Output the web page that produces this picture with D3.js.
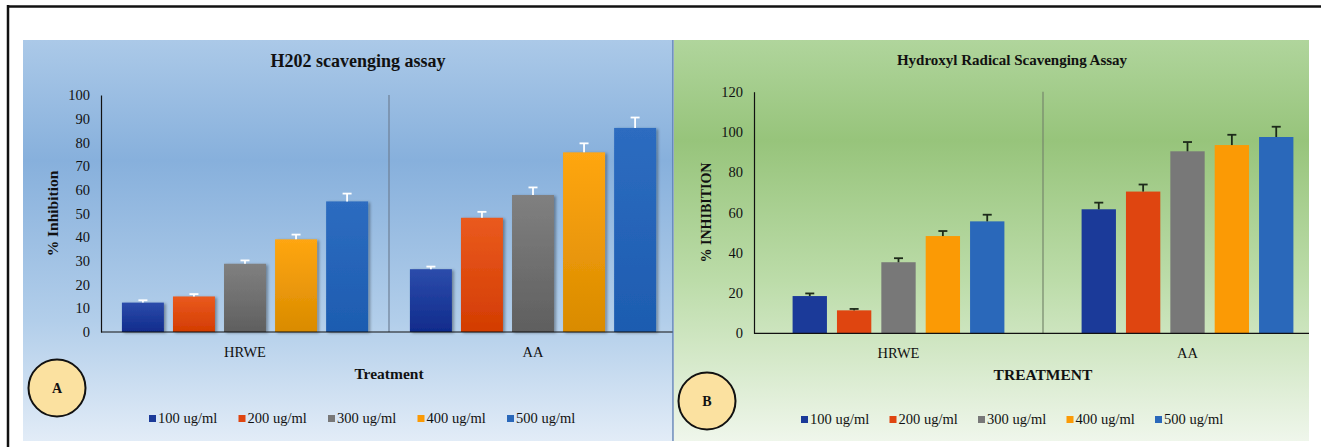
<!DOCTYPE html>
<html>
<head>
  <meta charset="utf-8" />
  <title>H2O2 and hydroxyl radical scavenging</title>
  <script src="https://d3js.org/d3.v7.min.js"></script>
</head>
<style>
body {
  margin: 0;
  background: #fff;
}
text {
  font-family: 'Liberation Serif', 'Times New Roman', serif;
  fill: #111;
}
</style>
<body>
<div id="viz"></div>
<script>
'use strict';

const groups = ['HRWE', 'AA'];
const series = ['100 ug/ml', '200 ug/ml', '300 ug/ml', '400 ug/ml', '500 ug/ml'];

// panel A: H2O2 scavenging, % inhibition per group x concentration
const h2o2Values = [[12.4, 15.0, 28.8, 39.1, 55.1], [26.5, 48.2, 57.8, 75.8, 86.1]];
const h2o2Errors = [[1.0, 1.0, 1.4, 2.0, 3.3], [1.1, 2.5, 3.2, 3.8, 4.4]];
const h2o2Ticks = [0, 10, 20, 30, 40, 50, 60, 70, 80, 90, 100];

// panel B: hydroxyl radical scavenging
const ohValues = [[18.5, 11.4, 35.3, 48.3, 55.6], [61.6, 70.4, 90.4, 93.5, 97.5]];
const ohErrors = [[1.3, 0.7, 2.0, 2.5, 3.3], [3.3, 3.5, 4.6, 5.1, 5.1]];
const ohTicks = [0, 20, 40, 60, 80, 100, 120];

const flatColors = ['#1b3a99', '#df4510', '#787878', '#fb9a05', '#2a68ba'];
const gradTop = ['#2c4cab', '#ea5a1e', '#808080', '#ffa612', '#2d6cc0'];
const gradBot = ['#102b8c', '#d33c02', '#5f5f5f', '#d98b00', '#1d5cb0'];

const W = 1321, H = 447;

const svg = d3.select('#viz')
  .append('svg')
    .attr('width', W)
    .attr('height', H);

const defs = svg.append('defs');

function grad(id, stops) {
  const g = defs.append('linearGradient')
    .attr('id', id)
    .attr('x1', 0).attr('y1', 0).attr('x2', 0).attr('y2', 1);
  stops.forEach(s => g.append('stop').attr('offset', s[0]).attr('stop-color', s[1]));
}

grad('bgA', [[0, '#abc9e8'], [0.3, '#87b0dc'], [0.7, '#b2ceea'], [1, '#e2ecf7']]);
grad('bgB', [[0, '#b0d59c'], [0.25, '#97c47b'], [0.6, '#bcdca9'], [1, '#eff6eb']]);
series.forEach((s, i) => grad('bar' + i, [[0, gradTop[i]], [1, gradBot[i]]]));

defs.append('filter')
    .attr('id', 'shadow')
    .attr('x', -0.2).attr('y', -0.1).attr('width', 1.5).attr('height', 1.3)
  .append('feDropShadow')
    .attr('dx', 2).attr('dy', 1).attr('stdDeviation', 1.6)
    .attr('flood-color', '#000').attr('flood-opacity', 0.35);

// outer frame
svg.append('line').attr('x1', 7).attr('x2', W).attr('y1', 6.5).attr('y2', 6.5)
  .attr('stroke', '#111').attr('stroke-width', 2.5);
svg.append('line').attr('x1', 8).attr('x2', 8).attr('y1', 5).attr('y2', H)
  .attr('stroke', '#111').attr('stroke-width', 2.5);

function panel(cfg) {
  const g = svg.append('g');

  g.append('rect')
    .attr('x', cfg.box[0]).attr('y', cfg.box[1])
    .attr('width', cfg.box[2]).attr('height', cfg.box[3])
    .attr('fill', cfg.bg);

  const y = d3.scaleLinear().domain(cfg.domain).range([cfg.y0, cfg.y1]);
  const x = d3.scaleBand().domain(groups).range([cfg.x0, cfg.x1]);
  const xs = d3.scaleBand().domain(series).range([0, x.bandwidth()])
    .paddingInner(cfg.padIn).paddingOuter(cfg.padOut);

  // title
  g.append('text')
    .attr('x', cfg.titleX).attr('y', cfg.titleY)
    .attr('text-anchor', 'middle')
    .style('font-size', cfg.titleSize + 'px')
    .style('font-weight', 'bold')
    .text(cfg.title);

  // y axis
  const yAxis = g.append('g')
    .attr('transform', 'translate(' + cfg.x0 + ',0)')
    .call(d3.axisLeft(y).tickValues(cfg.ticks).tickSize(0).tickPadding(11));
  yAxis.select('.domain').attr('stroke', '#111').attr('stroke-width', 1.2);
  yAxis.selectAll('text')
    .style('font-size', '14.5px')
    .style('font-family', "'Liberation Serif', serif")
    .attr('fill', '#111');

  g.append('text')
    .attr('transform', 'translate(' + cfg.ylabX + ',' + (cfg.y0 + cfg.y1) / 2 + ') rotate(-90)')
    .attr('text-anchor', 'middle')
    .style('font-size', cfg.ylabSize + 'px')
    .style('font-weight', 'bold')
    .text(cfg.ylabel);

  // divider between the groups
  g.append('line')
    .attr('x1', x('AA')).attr('x2', x('AA'))
    .attr('y1', cfg.y1).attr('y2', cfg.y0)
    .attr('stroke', cfg.divider).attr('stroke-width', 1.2);

  // bars
  groups.forEach((grp, gi) => {
    const bg = g.append('g').attr('transform', 'translate(' + x(grp) + ',0)');
    bg.selectAll('rect')
      .data(series)
      .join('rect')
        .attr('x', d => xs(d))
        .attr('y', (d, i) => y(cfg.values[gi][i]))
        .attr('width', xs.bandwidth())
        .attr('height', (d, i) => y(0) - y(cfg.values[gi][i]))
        .attr('fill', (d, i) => cfg.gradient ? 'url(#bar' + i + ')' : flatColors[i])
        .attr('filter', cfg.gradient ? 'url(#shadow)' : null);

    const eb = bg.selectAll('g.err')
      .data(series)
      .join('g')
        .attr('class', 'err')
        .attr('stroke', cfg.errColor)
        .attr('stroke-width', 1.8);
    eb.append('line')
      .attr('x1', d => xs(d) + xs.bandwidth() / 2)
      .attr('x2', d => xs(d) + xs.bandwidth() / 2)
      .attr('y1', (d, i) => y(cfg.values[gi][i]))
      .attr('y2', (d, i) => y(cfg.values[gi][i] + cfg.errors[gi][i]));
    eb.append('line')
      .attr('x1', d => xs(d) + xs.bandwidth() / 2 - 4.5)
      .attr('x2', d => xs(d) + xs.bandwidth() / 2 + 4.5)
      .attr('y1', (d, i) => y(cfg.values[gi][i] + cfg.errors[gi][i]))
      .attr('y2', (d, i) => y(cfg.values[gi][i] + cfg.errors[gi][i]));
  });

  // baseline
  g.append('line')
    .attr('x1', cfg.x0).attr('x2', cfg.box[0] + cfg.box[2])
    .attr('y1', y(0)).attr('y2', y(0))
    .attr('stroke', '#111').attr('stroke-width', 1.2);

  // group labels
  g.selectAll('text.grp')
    .data(groups)
    .join('text')
      .attr('class', 'grp')
      .attr('x', d => x(d) + x.bandwidth() / 2)
      .attr('y', cfg.y0 + 25)
      .attr('text-anchor', 'middle')
      .style('font-size', '14.5px')
      .text(d => d);

  g.append('text')
    .attr('x', x('AA')).attr('y', cfg.y0 + 47)
    .attr('text-anchor', 'middle')
    .style('font-size', '15.5px')
    .style('font-weight', 'bold')
    .text(cfg.xlabel);

  // panel badge
  g.append('circle')
    .attr('cx', cfg.badge[0]).attr('cy', cfg.badge[1]).attr('r', 28.5)
    .attr('fill', '#fbe1a0').attr('stroke', '#111').attr('stroke-width', 2);
  g.append('text')
    .attr('x', cfg.badge[0]).attr('y', cfg.badge[1] + 5)
    .attr('text-anchor', 'middle')
    .style('font-size', '14px')
    .style('font-weight', 'bold')
    .text(cfg.letter);

  // legend
  const lg = g.selectAll('g.leg')
    .data(series)
    .join('g')
      .attr('class', 'leg')
      .attr('transform', (d, i) => 'translate(' + (cfg.legX + i * cfg.legStep) + ',' + cfg.legY + ')');
  lg.append('rect')
    .attr('x', 0).attr('y', -8).attr('width', 7).attr('height', 7)
    .attr('fill', (d, i) => flatColors[i]);
  lg.append('text')
    .attr('x', 9).attr('y', 0)
    .style('font-size', '14.5px')
    .text(d => d);
}

panel({
  box: [23, 40, 650, 401],
  bg: 'url(#bgA)',
  title: 'H202 scavenging assay',
  titleX: 358, titleY: 67, titleSize: 18,
  domain: [0, 100], ticks: h2o2Ticks,
  x0: 101, x1: 677, y0: 332, y1: 95,
  padIn: 0.178, padOut: 0.41,
  values: h2o2Values, errors: h2o2Errors,
  gradient: true, errColor: '#fff', divider: '#6d7f95',
  ylabel: '% Inhibition', ylabX: 58, ylabSize: 15.5,
  xlabel: 'Treatment',
  badge: [57, 388], letter: 'A',
  legX: 149, legY: 423, legStep: 89.5
});

panel({
  box: [674, 40, 635, 401],
  bg: 'url(#bgB)',
  title: 'Hydroxyl Radical Scavenging Assay',
  titleX: 1012, titleY: 65, titleSize: 15,
  domain: [0, 120], ticks: ohTicks,
  x0: 754, x1: 1332, y0: 333.3, y1: 91.7,
  padIn: 0.226, padOut: 0.87,
  values: ohValues, errors: ohErrors,
  gradient: false, errColor: '#1d2a1a', divider: '#76866c',
  ylabel: '% INHIBITION', ylabX: 711, ylabSize: 14,
  xlabel: 'TREATMENT',
  badge: [707, 401], letter: 'B',
  legX: 801, legY: 424, legStep: 88.5
});

// thin blue seam between the two panels
svg.append('line').attr('x1', 673).attr('x2', 673).attr('y1', 40).attr('y2', 441)
  .attr('stroke', '#4a70a6').attr('stroke-width', 1.2);
</script>
</body>
</html>
